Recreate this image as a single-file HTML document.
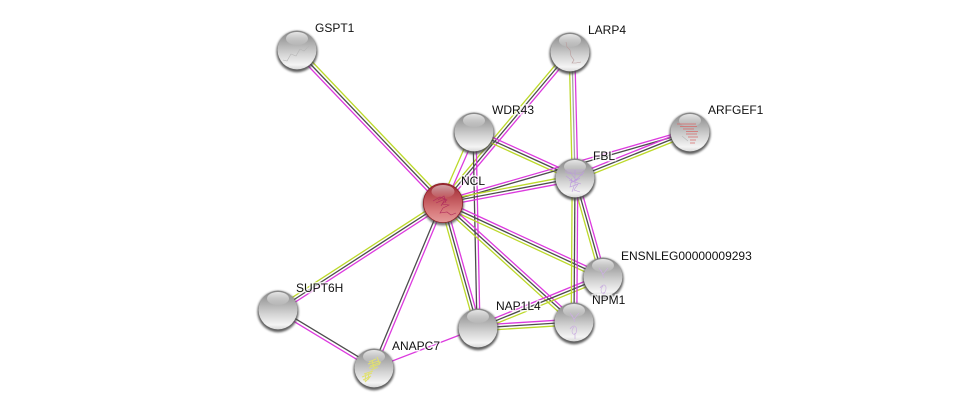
<!DOCTYPE html>
<html><head><meta charset="utf-8"><style>
html,body{margin:0;padding:0;background:#fff;width:975px;height:413px;overflow:hidden}
svg{display:block}
text{font-family:"Liberation Sans",sans-serif;font-size:12px;fill:#111;paint-order:stroke;stroke:#fff;stroke-opacity:.7;stroke-width:3px}
.g line{stroke:#bcd92a}.m line{stroke:#dc3ade}.d line{stroke:#4d4d4d}
line{stroke-width:1.3;fill:none}
</style></head><body>
<svg width="975" height="413" viewBox="0 0 975 413" xmlns="http://www.w3.org/2000/svg">
<defs>
<linearGradient id="b" x1="0" y1="0" x2="0" y2="1"><stop offset="0" stop-color="#858585"/><stop offset=".28" stop-color="#a8a8a8"/><stop offset=".62" stop-color="#d6d6d6"/><stop offset=".88" stop-color="#f4f4f4"/><stop offset="1" stop-color="#d8d8d8"/></linearGradient>
<linearGradient id="r" x1="0" y1="0" x2="0" y2="1"><stop offset="0" stop-color="#93252c"/><stop offset=".3" stop-color="#b84a50"/><stop offset=".7" stop-color="#d87a7c"/><stop offset="1" stop-color="#e49a9a"/></linearGradient>
<linearGradient id="h" x1="0" y1="0" x2="0" y2="1"><stop offset="0" stop-color="#fff" stop-opacity=".8"/><stop offset="1" stop-color="#fff" stop-opacity=".05"/></linearGradient>
<filter id="s" x="-30%" y="-30%" width="160%" height="160%"><feGaussianBlur stdDeviation="1.1"/></filter>
<g id="n"><circle cx="0" cy="1.6" r="20.6" fill="#444" opacity=".85" filter="url(#s)"/><circle r="19.4" fill="url(#b)"/><ellipse cx="0" cy="-11.5" rx="11" ry="6.5" fill="url(#h)"/></g>
</defs>

<!-- GSPT1-NCL -->
<g class="g"><line x1="299.1" y1="48" x2="445.1" y2="201"/></g><g class="d"><line x1="297" y1="50" x2="443" y2="203"/></g><g class="m"><line x1="294.9" y1="52" x2="440.9" y2="205"/></g>
<!-- LARP4-NCL -->
<g class="g"><line x1="567.8" y1="50.2" x2="440.8" y2="201.2"/></g><g class="d"><line x1="570" y1="52" x2="443" y2="203"/></g><g class="m"><line x1="572.2" y1="53.8" x2="445.2" y2="204.8"/></g>
<!-- LARP4-FBL -->
<g class="g"><line x1="569.2" y1="52" x2="572.2" y2="178"/></g><g class="d"><line x1="572" y1="52" x2="575" y2="178" style="stroke-opacity:.5"/></g><g class="m"><line x1="574.8" y1="52" x2="577.8" y2="178"/></g>
<!-- WDR43-NCL -->
<g class="g"><line x1="471.8" y1="131" x2="440.8" y2="202"/></g><g class="m"><line x1="476.2" y1="133" x2="445.2" y2="204"/></g>
<!-- WDR43-NAP1L4 -->
<g class="d"><line x1="473" y1="132" x2="477" y2="328"/></g><g class="m"><line x1="476" y1="132" x2="480" y2="328"/></g>
<!-- WDR43-FBL -->
<g class="m"><line x1="475.2" y1="129.4" x2="576.2" y2="175.4"/></g><g class="d"><line x1="474" y1="132" x2="575" y2="178"/></g><g class="g"><line x1="472.8" y1="134.6" x2="573.8" y2="180.6"/></g>
<!-- NCL-ARFGEF1 -->
<g class="m"><line x1="442.3" y1="200.5" x2="689.3" y2="129.5"/></g><g class="d"><line x1="443" y1="203" x2="690" y2="132"/></g>
<!-- NCL-FBL -->
<g class="g"><line x1="442.5" y1="200.2" x2="574.5" y2="175.2"/></g><g class="d"><line x1="443" y1="203" x2="575" y2="178"/></g><g class="m"><line x1="443.5" y1="205.8" x2="575.5" y2="180.8"/></g>
<!-- FBL-ARFGEF1 -->
<g class="m"><line x1="574" y1="175.4" x2="689" y2="129.4"/></g><g class="d"><line x1="575" y1="178" x2="690" y2="132"/></g><g class="g"><line x1="576" y1="180.6" x2="691" y2="134.6"/></g>
<!-- NCL-ENSN -->
<g class="m"><line x1="444.2" y1="200.4" x2="604.2" y2="274.4"/></g><g class="d"><line x1="443" y1="203" x2="603" y2="277"/></g><g class="g"><line x1="441.8" y1="205.6" x2="601.8" y2="279.6"/></g>
<!-- NCL-NPM1 -->
<g class="m"><line x1="445" y1="200.9" x2="576" y2="319.9"/></g><g class="d"><line x1="443" y1="203" x2="574" y2="322"/></g><g class="g"><line x1="441" y1="205.1" x2="572" y2="324.1"/></g>
<!-- NCL-NAP1L4 -->
<g class="g"><line x1="440.3" y1="203.8" x2="475.3" y2="328.8"/></g><g class="d"><line x1="443" y1="203" x2="478" y2="328"/></g><g class="m"><line x1="445.7" y1="202.2" x2="480.7" y2="327.2"/></g>
<!-- NCL-ANAPC7 -->
<g class="d"><line x1="441.6" y1="202.4" x2="372.6" y2="367.4"/></g><g class="m"><line x1="444.4" y1="203.6" x2="375.4" y2="368.6"/></g>
<!-- NCL-SUPT6H -->
<g class="g"><line x1="441.5" y1="200.7" x2="276.5" y2="307.7"/></g><g class="d"><line x1="443" y1="203" x2="278" y2="310"/></g><g class="m"><line x1="444.5" y1="205.3" x2="279.5" y2="312.3"/></g>
<!-- SUPT6H-ANAPC7 -->
<g class="d"><line x1="278.8" y1="308.7" x2="374.8" y2="366.7"/></g><g class="m"><line x1="277.2" y1="311.3" x2="373.2" y2="369.3"/></g>
<!-- ANAPC7-NAP1L4 -->
<g class="m"><line x1="374" y1="368" x2="478" y2="328"/></g>
<!-- NAP1L4-ENSN -->
<g class="m"><line x1="477" y1="325.4" x2="602" y2="274.4"/></g><g class="d"><line x1="478" y1="328" x2="603" y2="277"/></g><g class="g"><line x1="479" y1="330.6" x2="604" y2="279.6"/></g>
<!-- NAP1L4-NPM1 -->
<g class="m"><line x1="477.8" y1="325.2" x2="573.8" y2="319.2"/></g><g class="d"><line x1="478" y1="328" x2="574" y2="322"/></g><g class="g"><line x1="478.2" y1="330.8" x2="574.2" y2="324.8"/></g>
<!-- FBL-ENSN -->
<g class="g"><line x1="572.3" y1="178.8" x2="600.3" y2="277.8"/></g><g class="d"><line x1="575" y1="178" x2="603" y2="277"/></g><g class="m"><line x1="577.7" y1="177.2" x2="605.7" y2="276.2"/></g>
<!-- FBL-NPM1 -->
<g class="g"><line x1="572.2" y1="178" x2="571.2" y2="322"/></g><g class="d"><line x1="575" y1="178" x2="574" y2="322"/></g><g class="m"><line x1="577.8" y1="178" x2="576.8" y2="322"/></g>

<!-- nodes -->
<use href="#n" x="297" y="50"/>
<polyline points="283,60 287,61 291,54 296,56 300,49 304,51 309,46" fill="none" stroke="#b5b5b5" stroke-width=".6"/>
<use href="#n" x="570" y="52"/>
<polyline points="566,42 567,47 570,50 571,56 574,60 572,63 576,63 581,62" fill="none" stroke="#b89a9a" stroke-width=".6"/>
<use href="#n" x="474" y="132"/>
<use href="#n" x="690" y="132"/>
<g fill="none" stroke="#d86a6a" stroke-width=".8"><path d="M677,124 H696 M680,126.5 H697 M683,129 H694 M686,131.5 H698 M686,134 H697 M688,137 H698 M690,140 H696 M690,143 H695"/><path d="M682,136 L688,141" stroke="#bbb"/></g>
<use href="#n" x="575" y="178"/>
<g fill="none" stroke="#bd9ade" stroke-width=".6"><path d="M565,170 H585 M565,172 H584 M567,173 L583,175 M570,172 L576,180 L584,172 M566,176 L574,182 L580,178 M572,178 L570,187 L578,184 L574,190 L580,192 M575,170 V186 M569,180 L581,184 M571,183 L578,178 M574,186 L572,192"/></g>
<use href="#n" x="603" y="277"/>
<g fill="none" stroke="#cbb0e0" stroke-width=".7"><path d="M599,268 L603,274 L608,268 M601,270 L604,278 M600,288 C604,282 608,286 605,292 C602,296 599,290 603,286 M604,292 V296"/></g>
<use href="#n" x="278" y="310"/>
<use href="#n" x="574" y="322"/>
<g fill="none" stroke="#cbb0e0" stroke-width=".7"><path d="M570,313 L574,319 L579,313 M572,315 L575,322 M570,329 C574,323 578,327 576,333 C573,337 570,331 574,327 M575,333 V339"/></g>
<use href="#n" x="478" y="328"/>
<use href="#n" x="374" y="368"/>
<g fill="none" stroke="#e0e070" stroke-width="1"><path d="M369,362 L376,359 M368,364 L379,361 M370,366 L381,362 M369,368 L380,364 M371,370 L378,367 M377,357 L380,364 M372,360 L374,368 M364,374 L373,371 M362,377 L372,373 M363,380 L371,376 M365,382 L370,377 M366,373 L365,381 M369,372 L368,380"/></g>
<!-- NCL -->
<circle cx="443" cy="204.6" r="20.8" fill="#444" opacity=".75" filter="url(#s)"/>
<circle cx="443" cy="203" r="19.6" fill="url(#r)" stroke="#8e1c24" stroke-width=".8"/>
<ellipse cx="443" cy="191.5" rx="11.5" ry="6.5" fill="url(#h)" opacity=".7"/>
<g fill="none" stroke="#b02a5c" stroke-width=".6"><path d="M433,201 L440,197 L447,200 L442,204 L449,205 L443,208 M438,200 L444,196 L446,203 M436,203 L445,199 L441,206 M443,208 L440,213 L447,212 L451,215 L456,213"/></g>

<!-- labels -->
<text x="315" y="32">GSPT1</text>
<text x="588" y="34">LARP4</text>
<text x="492" y="114">WDR43</text>
<text x="708" y="114">ARFGEF1</text>
<text x="593" y="160">FBL</text>
<text x="461" y="185">NCL</text>
<text x="621" y="260">ENSNLEG00000009293</text>
<text x="592" y="304">NPM1</text>
<text x="496" y="310">NAP1L4</text>
<text x="296" y="292">SUPT6H</text>
<text x="392" y="350">ANAPC7</text>
</svg>
</body></html>
